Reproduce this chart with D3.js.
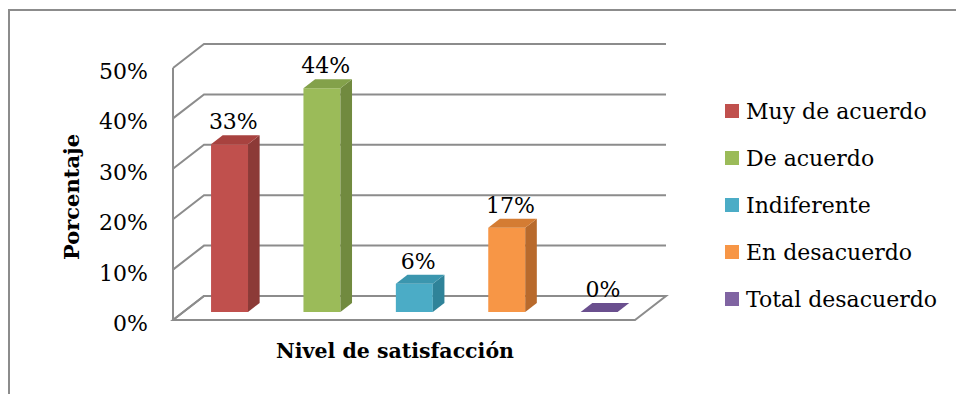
<!DOCTYPE html>
<html><head><meta charset="utf-8">
<script src="https://cdn.jsdelivr.net/npm/d3@7/dist/d3.min.js"></script>
<style>body{margin:0;background:#fff}svg{display:block}</style>
</head><body>
<svg id="chart" width="956" height="394"></svg>
<script>
const categories = ["Muy de acuerdo","De acuerdo","Indiferente","En desacuerdo","Total desacuerdo"];
const values = [33.3, 44.4, 5.6, 16.7, 0];
const valueLabels = ["33%","44%","6%","17%","0%"];
const yTicks = [0,10,20,30,40,50];
const yTickLabels = ["0%","10%","20%","30%","40%","50%"];
const colors = ["#c0504d","#9bbb59","#4bacc6","#f79646","#8064a2"];
const sideColors = ["#8c3a37","#718a3f","#2f8399","#b86a2c","#5c4680"];
const topColors = ["#a8423f","#83a14a","#3b96ae","#d47c33","#6a4f8e"];
const yTitle = "Porcentaje";
const xTitle = "Nivel de satisfacción";

const svg = d3.select("#chart");
const FONT = "'DejaVu Serif', serif";
const grid = "#8c8c8c";

// 3D geometry
const DX = 31, DY = 24;             // depth offset of the back wall
const zA = 1/3, zB = 0.708;          // bar depth range
const x = d3.scaleBand().domain(categories).range([173, 635]).paddingInner(0.6).paddingOuter(0.3);
const y = d3.scaleLinear().domain([0, 50]).range([320, 68]);
const P = (px, v, z) => [px + DX*z, y(v) - DY*z];

// outer border (cropped)
svg.append("path").attr("d","M9,394 L9,10 L956,10").attr("fill","none").attr("stroke","#8c8c8c").attr("stroke-width",2);

const x0 = x.range()[0], x1 = x.range()[1];
// floor
const floor = [P(x0,0,0),P(x1,0,0),P(x1,0,1),P(x0,0,1)];
svg.append("polygon").attr("points",floor.map(p=>p.join(",")).join(" ")).attr("fill","#fff").attr("stroke",grid).attr("stroke-width",2);
// gridlines: back wall + side wall diagonal
yTicks.forEach(t=>{
  const a = P(x0,t,0), b = P(x0,t,1), c = P(x1,t,1);
  svg.append("path").attr("d",`M${a}L${b}L${c}`).attr("fill","none").attr("stroke",grid).attr("stroke-width",2);
});
// front-left vertical edge
svg.append("line").attr("x1",x0).attr("x2",x0).attr("y1",y(0)).attr("y2",y(50)).attr("stroke",grid).attr("stroke-width",2);

// y tick labels
svg.append("g").selectAll("text").data(yTicks).join("text")
  .attr("x",148).attr("y",d=>y(d)+11).attr("text-anchor","end")
  .attr("font-family",FONT).attr("font-size",22).attr("fill","#000")
  .text((d,i)=>yTickLabels[i]);

// bars
const poly = pts => pts.map(p=>p.join(",")).join(" ");
categories.forEach((c,i)=>{
  const v = values[i];
  const bx0 = x(c), bx1 = x(c)+x.bandwidth();
  const g = svg.append("g");
  const fBL=P(bx0,0,zA), fBR=P(bx1,0,zA), fTL=P(bx0,v,zA), fTR=P(bx1,v,zA);
  const bBR=P(bx1,0,zB), bTL=P(bx0,v,zB), bTR=P(bx1,v,zB);
  if (v > 0) {
    g.append("polygon").attr("points",poly([fBL,fBR,fTR,fTL])).attr("fill",colors[i]);
    g.append("polygon").attr("points",poly([fBR,bBR,bTR,fTR])).attr("fill",sideColors[i]);
  }
  g.append("polygon").attr("points",poly([fTL,fTR,bTR,bTL])).attr("fill",topColors[i]);
  const lbl = P(bx0 + x.bandwidth()/2, v, (zA+zB)/2);
  svg.append("text").attr("x",lbl[0]-2).attr("y",P(0,v,zB)[1]-6).attr("text-anchor","middle")
    .attr("font-family",FONT).attr("font-size",22).attr("fill","#000").text(valueLabels[i]);
});

// axis titles
svg.append("text").attr("x",395).attr("y",358).attr("text-anchor","middle")
  .attr("font-family",FONT).attr("font-weight","bold").attr("font-size",20.5).attr("fill","#000").text(xTitle);
svg.append("text").attr("transform","translate(79,197) rotate(-90)").attr("text-anchor","middle")
  .attr("font-family",FONT).attr("font-weight","bold").attr("font-size",21).attr("fill","#000").text(yTitle);

// legend
const leg = svg.append("g").selectAll("g").data(categories).join("g")
  .attr("transform",(d,i)=>`translate(725,${111 + i*47})`);
leg.append("rect").attr("x",0).attr("y",-7).attr("width",14).attr("height",14).attr("fill",(d,i)=>colors[i]);
leg.append("text").attr("x",21).attr("y",8).attr("font-family",FONT).attr("font-size",22).attr("fill","#000").text(d=>d);
</script>
</body></html>
